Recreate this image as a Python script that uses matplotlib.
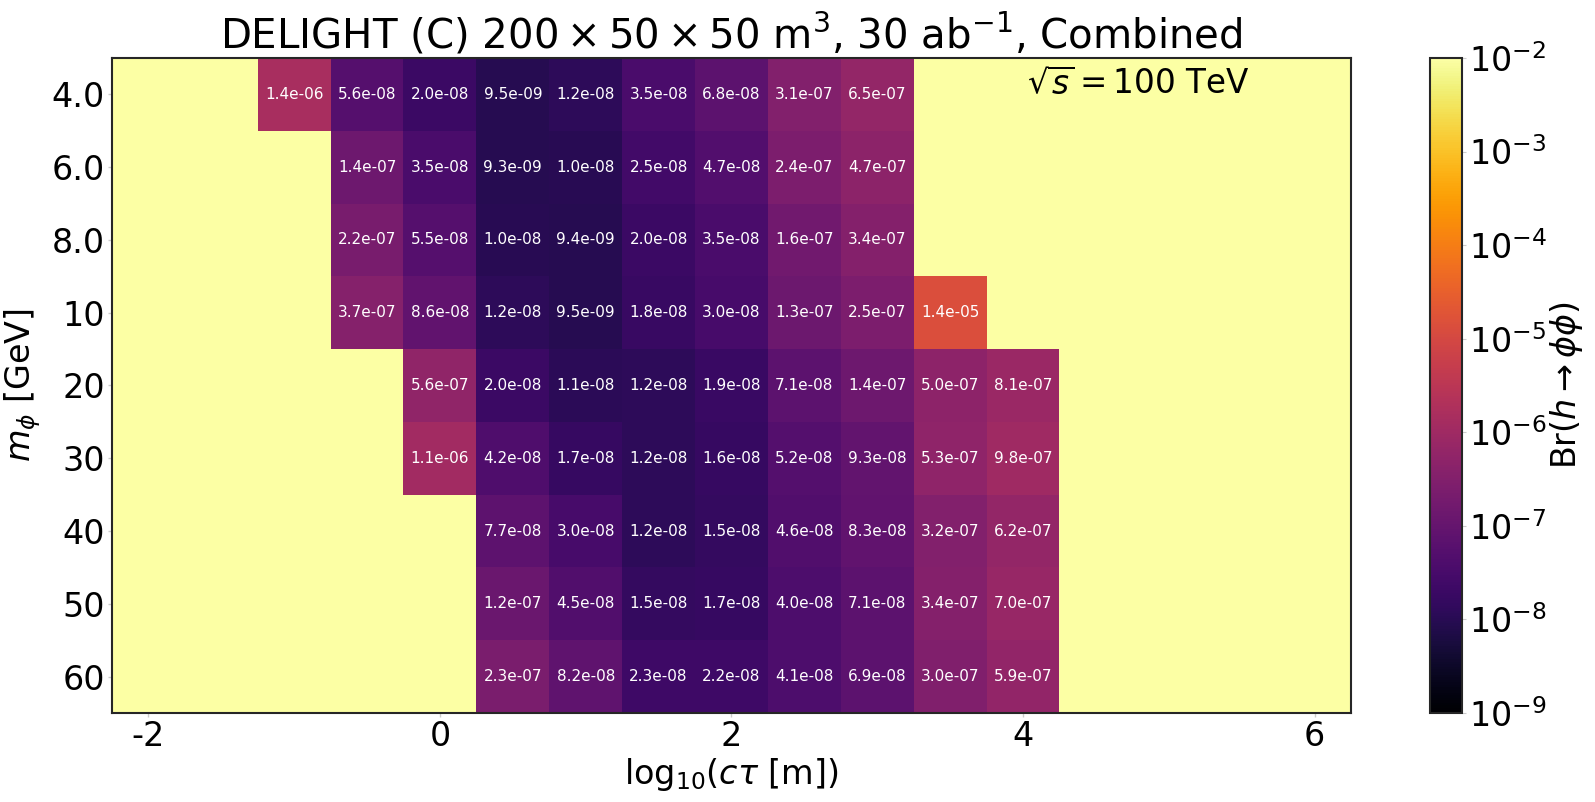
import numpy as np
import matplotlib
matplotlib.use("Agg")
import matplotlib.pyplot as plt
from matplotlib.colors import LogNorm

# log10(c tau [m]) grid and m_phi rows
log_ctau = np.arange(-2.0, 6.01, 0.5)
masses = ["4.0", "6.0", "8.0", "10", "20", "30", "40", "50", "60"]

# Br limits per row: (first log10 ctau column, values)
row_4 = (-1.0, [1.4e-06, 5.6e-08, 2.0e-08, 9.5e-09, 1.2e-08, 3.5e-08, 6.8e-08, 3.1e-07, 6.5e-07])
row_6 = (-0.5, [1.4e-07, 3.5e-08, 9.3e-09, 1.0e-08, 2.5e-08, 4.7e-08, 2.4e-07, 4.7e-07])
row_8 = (-0.5, [2.2e-07, 5.5e-08, 1.0e-08, 9.4e-09, 2.0e-08, 3.5e-08, 1.6e-07, 3.4e-07])
row_10 = (-0.5, [3.7e-07, 8.6e-08, 1.2e-08, 9.5e-09, 1.8e-08, 3.0e-08, 1.3e-07, 2.5e-07, 1.4e-05])
row_20 = (0.0, [5.6e-07, 2.0e-08, 1.1e-08, 1.2e-08, 1.9e-08, 7.1e-08, 1.4e-07, 5.0e-07, 8.1e-07])
row_30 = (0.0, [1.1e-06, 4.2e-08, 1.7e-08, 1.2e-08, 1.6e-08, 5.2e-08, 9.3e-08, 5.3e-07, 9.8e-07])
row_40 = (0.5, [7.7e-08, 3.0e-08, 1.2e-08, 1.5e-08, 4.6e-08, 8.3e-08, 3.2e-07, 6.2e-07])
row_50 = (0.5, [1.2e-07, 4.5e-08, 1.5e-08, 1.7e-08, 4.0e-08, 7.1e-08, 3.4e-07, 7.0e-07])
row_60 = (0.5, [2.3e-07, 8.2e-08, 2.3e-08, 2.2e-08, 4.1e-08, 6.9e-08, 3.0e-07, 5.9e-07])
rows = [row_4, row_6, row_8, row_10, row_20, row_30, row_40, row_50, row_60]

# build grid, NaN where no limit
grid = np.full((len(masses), len(log_ctau)), np.nan)
for i, (x0, vals) in enumerate(rows):
    j0 = int(round((x0 - log_ctau[0]) / 0.5))
    grid[i, j0:j0 + len(vals)] = vals

cmap = plt.get_cmap("inferno").copy()
cmap.set_bad(cmap(1.0))
norm = LogNorm(vmin=1e-9, vmax=1e-2)

fig = plt.figure(figsize=(15.95, 8.02), dpi=100)
ax = fig.add_axes([0.0702, 0.111, 0.7768, 0.8167])
cax = fig.add_axes([0.8966, 0.111, 0.0201, 0.8167])

x_edges = np.append(log_ctau - 0.25, log_ctau[-1] + 0.25)
y_edges = np.arange(len(masses) + 1) - 0.5
mesh = ax.pcolormesh(x_edges, y_edges, np.ma.masked_invalid(grid), cmap=cmap, norm=norm)
ax.set_ylim(len(masses) - 0.5, -0.5)
ax.set_xlim(x_edges[0], x_edges[-1])

for i in range(len(masses)):
    for j in range(len(log_ctau)):
        if not np.isnan(grid[i, j]):
            ax.text(log_ctau[j], i, f"{grid[i, j]:.1e}", ha="center", va="center",
                    color="white", fontsize=11)

ax.set_xticks([-2, 0, 2, 4, 6])
ax.set_xticklabels(["-2", "0", "2", "4", "6"])
ax.set_yticks(range(len(masses)))
ax.set_yticklabels(masses)
ax.tick_params(labelsize=24, length=3, width=1, color="#cccccc", pad=2)
for sp in ax.spines.values():
    sp.set_linewidth(1.5)
    sp.set_color("#262626")

ax.set_xlabel(r"log$_{10}$($c\tau$ [m])", fontsize=24, labelpad=2)
ax.set_ylabel(r"$m_\phi$ [GeV]", fontsize=24, labelpad=6)
ax.set_title(r"DELIGHT (C) $200\times50\times50$ m$^3$, 30 ab$^{-1}$, Combined", fontsize=29, pad=3)
ax.text(0.918, 0.985, r"$\sqrt{s}=100$ TeV", transform=ax.transAxes, ha="right", va="top", fontsize=23.5)

cb = fig.colorbar(mesh, cax=cax)
cb.set_label(r"Br$(h\rightarrow\phi\phi)$", fontsize=24, labelpad=1)
cb.ax.tick_params(labelsize=24, length=3, color="#cccccc", which="major", pad=2)
cb.ax.tick_params(which="minor", length=0)
cb.outline.set_linewidth(1.5)
cb.outline.set_edgecolor("#262626")

fig.savefig("out.png", dpi=100)
